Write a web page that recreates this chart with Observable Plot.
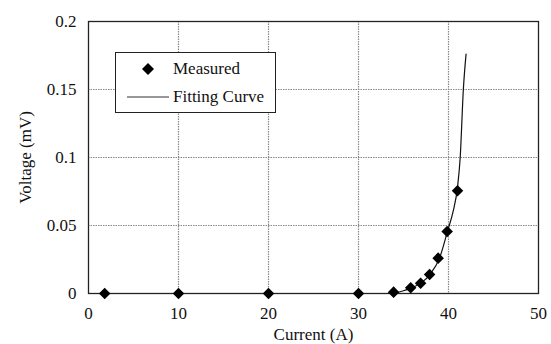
<!DOCTYPE html>
<html>
<head>
<meta charset="utf-8">
<script src="https://cdn.jsdelivr.net/npm/d3@7"></script>
<script src="https://cdn.jsdelivr.net/npm/@observablehq/plot@0.6"></script>
<style>
  html, body { margin: 0; padding: 0; background: #fff; }
  #wrap { position: relative; width: 551px; height: 344px; font-family: "Liberation Serif", Tinos, "DejaVu Serif", serif; }
  #legend { position: absolute; left: 115px; top: 52px; width: 159px; height: 59px; border: 1px solid #222; background: #fff; font-size: 17px; color: #111; }
  #legend svg { position: absolute; left: 0; top: 0; }
  #legend .t { position: absolute; left: 57px; line-height: 18px; }
  #wrap svg text { font-family: "Liberation Serif", Tinos, "DejaVu Serif", serif; }
</style>
</head>
<body>
<div id="wrap"></div>
<script>
// Measured data
const measuredCurrent = [1.8, 10, 20, 30, 33.9, 35.8, 36.9, 37.9, 38.85, 39.85, 41.0];
const measuredVoltage = [0, 0, 0, 0, 0.001, 0.0042, 0.0076, 0.014, 0.026, 0.0456, 0.0755];
// Fitting curve
const fitCurrent = [33.3, 34, 35, 36, 37, 38, 39, 39.9, 40.5, 41.0, 41.3, 41.65, 41.95];
const fitVoltage = [0, 0.0005, 0.002, 0.0045, 0.008, 0.0145, 0.026, 0.046, 0.06, 0.078, 0.1, 0.15, 0.176];
// Ticks
const xTicks = [0, 10, 20, 30, 40, 50];
const yTicks = [0, 0.05, 0.1, 0.15, 0.2];
const xGrid = [10, 20, 30, 40];
const yGrid = [0.05, 0.1, 0.15];

const measured = measuredCurrent.map((x, i) => ({x, y: measuredVoltage[i]}));
const fit = fitCurrent.map((x, i) => ({x, y: fitVoltage[i]}));

const serif = '"Liberation Serif", Tinos, "DejaVu Serif", serif';
const chart = Plot.plot({
  width: 551,
  height: 344,
  marginLeft: 88,
  marginRight: 13,
  marginTop: 21,
  marginBottom: 51,
  style: {fontFamily: serif, fontSize: "17px", color: "#111", background: "#fff"},
  x: {domain: [0, 50]},
  y: {domain: [0, 0.2]},
  marks: [
    Plot.ruleX(xGrid, {stroke: "#888", strokeWidth: 1.2, strokeDasharray: "1.5,1"}),
    Plot.ruleY(yGrid, {stroke: "#888", strokeWidth: 1.2, strokeDasharray: "1.5,1"}),
    Plot.frame({stroke: "#222", strokeWidth: 1.3}),
    Plot.axisX(xTicks, {tickSize: 0, tickPadding: 13, fontSize: 17, label: "Current (A)", labelAnchor: "center", labelArrow: "none", labelOffset: 46, tickFormat: d => String(d)}),
    Plot.axisY(yTicks, {tickSize: 0, tickPadding: 12, fontSize: 17, label: "Voltage (mV)", labelAnchor: "center", labelArrow: "none", labelOffset: 70, tickFormat: d => String(d)}),
    Plot.line(fit, {x: "x", y: "y", stroke: "#111", strokeWidth: 1.2, curve: "monotone-x"}),
    Plot.dot(measured, {x: "x", y: "y", symbol: "diamond2", r: 5.2, fill: "#000", stroke: "none"})
  ]
});
const wrap = document.getElementById("wrap");
wrap.appendChild(chart);

const legend = document.createElement("div");
legend.id = "legend";
legend.innerHTML = `
  <svg width="159" height="59">
    <path d="M32,10 L38,16 L32,22 L26,16 Z" fill="#000"/>
    <line x1="11" y1="44" x2="53" y2="44" stroke="#333" stroke-width="1.2"/>
  </svg>
  <div class="t" style="top:7px">Measured</div>
  <div class="t" style="top:35px">Fitting Curve</div>`;
wrap.appendChild(legend);
</script>
</body>
</html>
